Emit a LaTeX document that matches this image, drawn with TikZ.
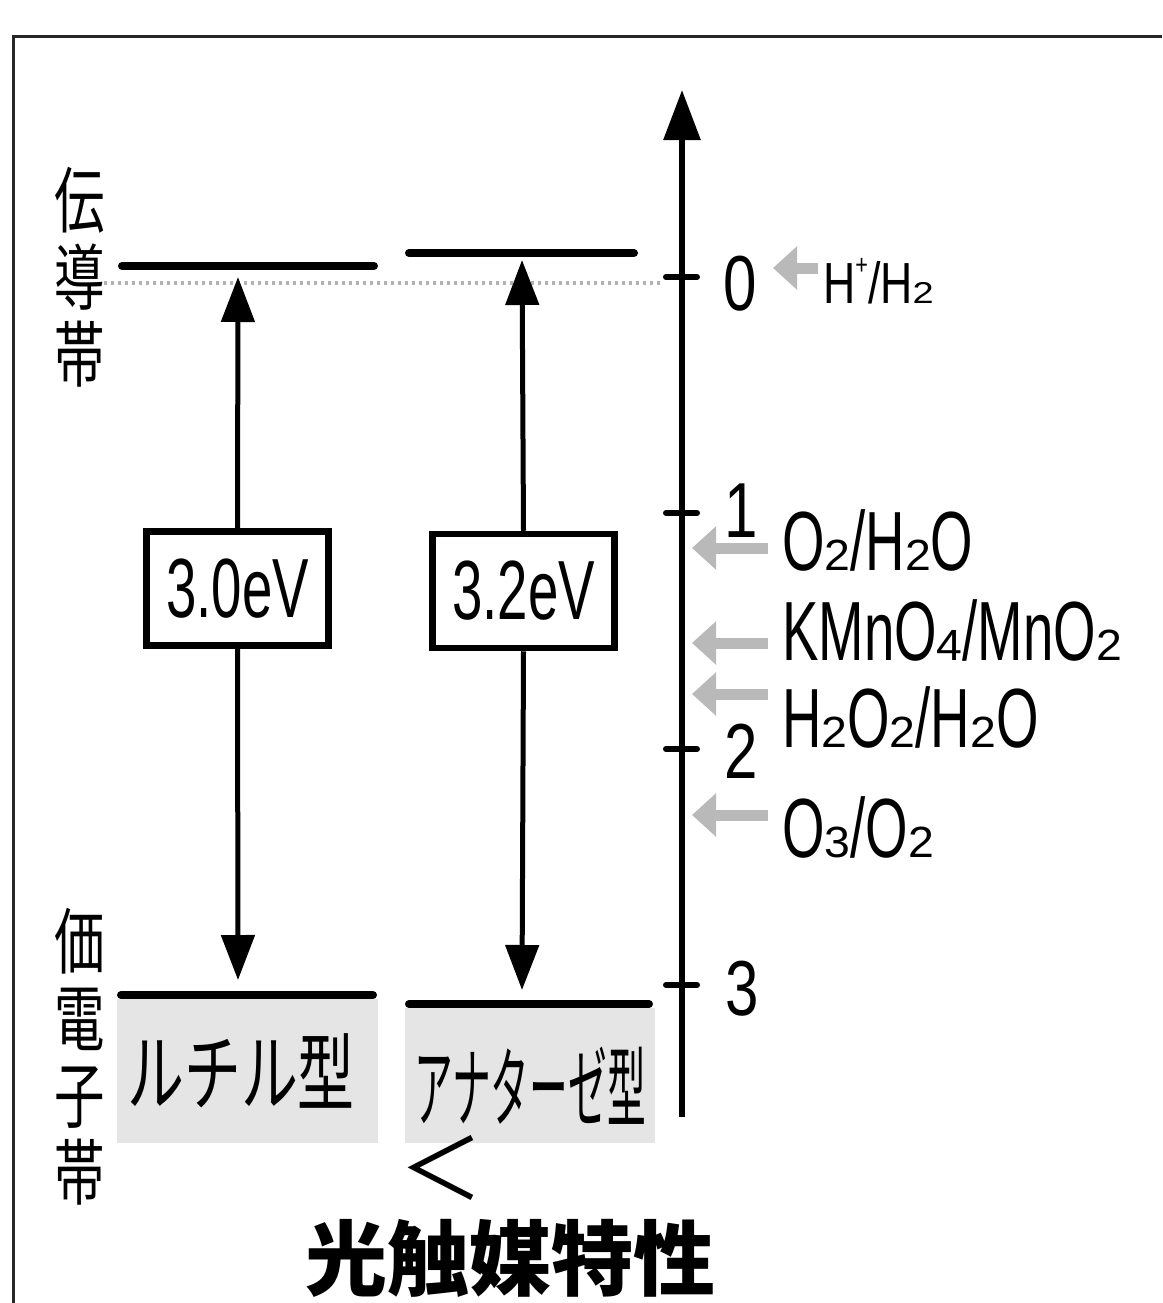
\documentclass[tikz,border=0pt]{standalone}
\usepackage{fontspec}
\usepackage{graphicx}
\usetikzlibrary{arrows.meta}
\setmainfont{Liberation Sans}
\newfontfamily\lat[FakeStretch=0.65]{Liberation Sans}
\newfontfamily\latw[FakeStretch=0.77]{Liberation Sans}
\newfontfamily\cjk{Noto Sans CJK JP}
\newfontfamily\cjkn[FakeStretch=0.7]{Noto Sans CJK JP}
\newcommand{\sdig}[1]{\scalebox{0.85}[0.52]{#1}}
\begin{document}
\begin{tikzpicture}[x=1pt,y=-1pt,
  frameline/.style={line width=3pt, black!85},
  band/.style={line width=8pt, line cap=round},
  bandfill/.style={fill=gray!20, draw=none},
  dotline/.style={line width=4pt, gray!60, dash pattern=on 3pt off 4pt},
  axisline/.style={line width=6pt, -{Triangle[width=36pt,length=50pt]}},
  tickmark/.style={line width=6pt, line cap=round},
  gapbox/.style={draw, line width=6.5pt, minimum width=182pt, minimum height=114pt, inner sep=0pt, font=\lat\fontsize{84}{84}\selectfont},
  dbl/.style={line width=5pt, -{Triangle[width=33pt,length=45pt]}},
  grayarrow/.style={line width=11pt, draw=gray!55, -{Triangle[width=42pt,length=24pt]}},
  lbl/.style={inner sep=0pt, font=\lat\fontsize{84}{84}\selectfont},
  ticklbl/.style={inner sep=0pt, anchor=base, font=\latw\fontsize{78}{78}\selectfont},
  vlbl/.style={inner sep=0pt, anchor=north, align=center, font=\cjkn\fontsize{72}{77}\selectfont},
  kind/.style={inner sep=0pt, anchor=base}
]
\useasboundingbox (0,0) rectangle (1162,1303);
% frame
\coordinate (fbl) at (13,1303);
\coordinate (ftl) at (13,37);
\coordinate (ftr) at (1162,37);
\draw[frameline] (fbl) -- (ftl) -- (ftr);
% valence fills
\fill[bandfill] (117,999) rectangle (378,1143);
\fill[bandfill] (405,1008) rectangle (655,1143);
% dotted reference line
\coordinate (dl) at (104,283);
\coordinate (dr) at (661,283);
\draw[dotline] (dl) -- (dr);
% band edges
\draw[band] (122,266) -- (374,266);
\draw[band] (409,253) -- (634,253);
\draw[band] (121,995) -- (373,995);
\draw[band] (409,1004) -- (649,1004);
% axis
\coordinate (ax0) at (682,1117);
\coordinate (ax1) at (682,90);
\draw[axisline] (ax0) -- (ax1);
\foreach \yy in {277,513,749,985}{\draw[tickmark] (666,\yy) -- (697,\yy);}
\node[ticklbl] (n0) at (740,310) {0};
\node[ticklbl] (n1) at (741,537) {1};
\node[ticklbl] (n2) at (741,778) {2};
\node[ticklbl] (n3) at (742,1015) {3};
% redox labels
\node[inner sep=0pt, anchor=base west, font=\latw\fontsize{58}{58}\selectfont] (hh) at (823,303) {H\raisebox{0.5em}{\fontsize{28}{28}\selectfont +}/H\sdig2};
\node[lbl, anchor=base west] (t1) at (782,570) {O\sdig2/H\sdig2O};
\node[lbl, anchor=base west] (t2) at (782,660) {KMnO\sdig4/MnO\sdig2};
\node[lbl, anchor=base west] (t3) at (782,747) {H\sdig2O\sdig2/H\sdig2O};
\node[lbl, anchor=base west] (t4) at (782,857) {O\sdig3/O\sdig2};
% gray arrows
\coordinate (g0s) at (818,268); \coordinate (g0e) at (773,268);
\coordinate (g1s) at (768,548); \coordinate (g1e) at (692,548);
\coordinate (g2s) at (768,643); \coordinate (g2e) at (692,643);
\coordinate (g3s) at (768,694); \coordinate (g3e) at (692,694);
\coordinate (g4s) at (768,815); \coordinate (g4e) at (692,815);
\draw[grayarrow] (g0s) -- (g0e);
\draw[grayarrow] (g1s) -- (g1e);
\draw[grayarrow] (g2s) -- (g2e);
\draw[grayarrow] (g3s) -- (g3e);
\draw[grayarrow] (g4s) -- (g4e);
% gap boxes and arrows
\node[gapbox] (b1) at (237.5,588.5) {3.0eV};
\node[gapbox] (b2) at (523.5,591) {3.2eV};
\coordinate (r1top) at (238,277);
\coordinate (r1bot) at (238,980);
\coordinate (r2top) at (522,260);
\coordinate (r2bot) at (522,990);
\draw[dbl] (b1.north) -- (r1top);
\draw[dbl] (b1.south) -- (r1bot);
\draw[dbl] (b2.north) -- (r2top);
\draw[dbl] (b2.south) -- (r2bot);
% side labels
\node[vlbl] (cb) at (80,167) {伝\\導\\帯};
\node[vlbl] (vb) at (80,908) {価\\電\\子\\帯};
% crystal types
\node[kind, font=\cjk\fontsize{85}{85}\selectfont] (rl) at (241,1104) {\scalebox{0.67}[1]{ルチル型}};
\node[kind, font=\cjk\fontsize{88}{88}\selectfont] (al) at (530,1120) {\scalebox{0.44}[1]{アナターゼ型}};
\node[inner sep=0pt, font=\cjk\fontsize{84}{84}\selectfont] (lt) at (441,1168) {＜};
\node[inner sep=0pt, font=\cjk\bfseries\fontsize{82}{82}\selectfont] (ti) at (510,1258) {光触媒特性};
\end{tikzpicture}
\end{document}
